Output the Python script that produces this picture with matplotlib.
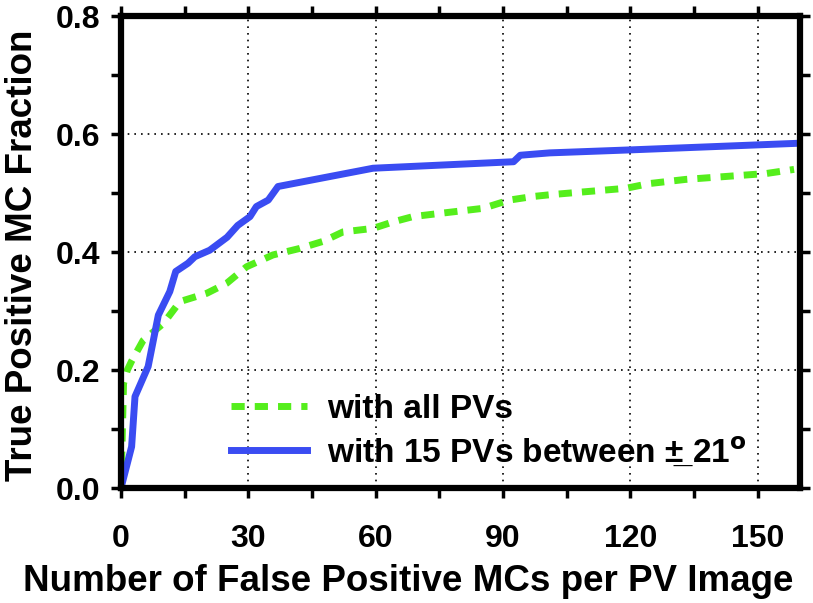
import numpy as np
import matplotlib
matplotlib.use("Agg")
import matplotlib.pyplot as plt

# ==================== Data ==================== #

fp_all = [0, 0.3, 0.6, 1.5, 2.5, 5.2, 10, 13.9, 20.2, 24.9, 29.6, 35.8, 42.1,
          47.6, 52.3, 59.4, 64.1, 68.8, 75.8, 85.3, 91.5, 97, 101, 119, 124.5,
          133, 152, 158.6]
tp_all = [0.0, 0.09, 0.177, 0.2, 0.215, 0.25, 0.279, 0.316, 0.33, 0.347,
          0.375, 0.395, 0.406, 0.418, 0.434, 0.44, 0.451, 0.46, 0.466, 0.474,
          0.488, 0.494, 0.497, 0.508, 0.516, 0.523, 0.533, 0.54]

fp_15 = [0, 2.5, 3.3, 6.4, 8.8, 11.5, 12.9, 15.8, 17.4, 20.9, 25, 27.5,
         30.4, 31.9, 34.7, 37, 59.4, 92.5, 94.1, 101, 119.8, 158.6]
tp_15 = [0.0, 0.07, 0.155, 0.206, 0.293, 0.333, 0.367, 0.381, 0.392, 0.403,
         0.425, 0.445, 0.46, 0.477, 0.488, 0.511, 0.542, 0.553, 0.564, 0.568,
         0.573, 0.584]

labels = ["with all PVs", "with 15 PVs between \u00b1\u0332 21$^\\mathbf{o}$"]
x_ticks = [0, 30, 60, 90, 120, 150]
y_ticks = [0.0, 0.2, 0.4, 0.6, 0.8]

# ===================== Plotting ======================== #

plt.rcParams['font.family'] = ['Liberation Sans', 'DejaVu Sans']
plt.rcParams['font.weight'] = 'bold'
plt.rcParams['mathtext.default'] = 'bf'

fig = plt.figure(figsize=(8.13, 6.03), dpi=100)
ax = fig.add_axes([121/813, 1 - 488/603, (800 - 121)/813, (488 - 16)/603])

ax.plot(fp_all, tp_all, color='#55ee1c', lw=5, linestyle=(0, (1.9, 1.45)),
        label=labels[0])
ax.plot(fp_15, tp_15, color='#3a4cf2', lw=5, label=labels[1])

ax.set_xlim(0, 160)
ax.set_ylim(0, 0.8)
ax.set_xticks(x_ticks)
ax.set_xticks(np.arange(0, 161, 15), minor=True)
ax.set_yticks(y_ticks)
ax.set_yticks(np.arange(0, 0.81, 0.1), minor=True)
ax.set_xticklabels([str(t) for t in x_ticks])
ax.set_yticklabels(["%.1f" % t for t in y_ticks])

ax.grid(True, which='major', linestyle=(0, (1, 3)), linewidth=1.2, color='black')
for s in ax.spines.values():
    s.set_linewidth(4.5)
ax.tick_params(which='both', direction='out', length=7, width=2.5,
               top=True, right=True, labelsize=23)
ax.tick_params(axis='x', pad=19)
ax.tick_params(axis='y', pad=8)

ax.set_xlabel("Number of False Positive MCs per PV Image", fontsize=26.5,
              fontweight='bold')
ax.xaxis.set_label_coords(0.423, -0.161)
ax.set_ylabel("True Positive MC Fraction", fontsize=26.5, fontweight='bold')
ax.yaxis.set_label_coords(-0.119, 0.494)

leg = ax.legend(loc='lower left', bbox_to_anchor=(0.137, 0.006), frameon=False,
                fontsize=24, handlelength=2.3, handletextpad=0.6,
                labelspacing=0.3, borderpad=0)

fig.savefig("out.png", dpi=100)
